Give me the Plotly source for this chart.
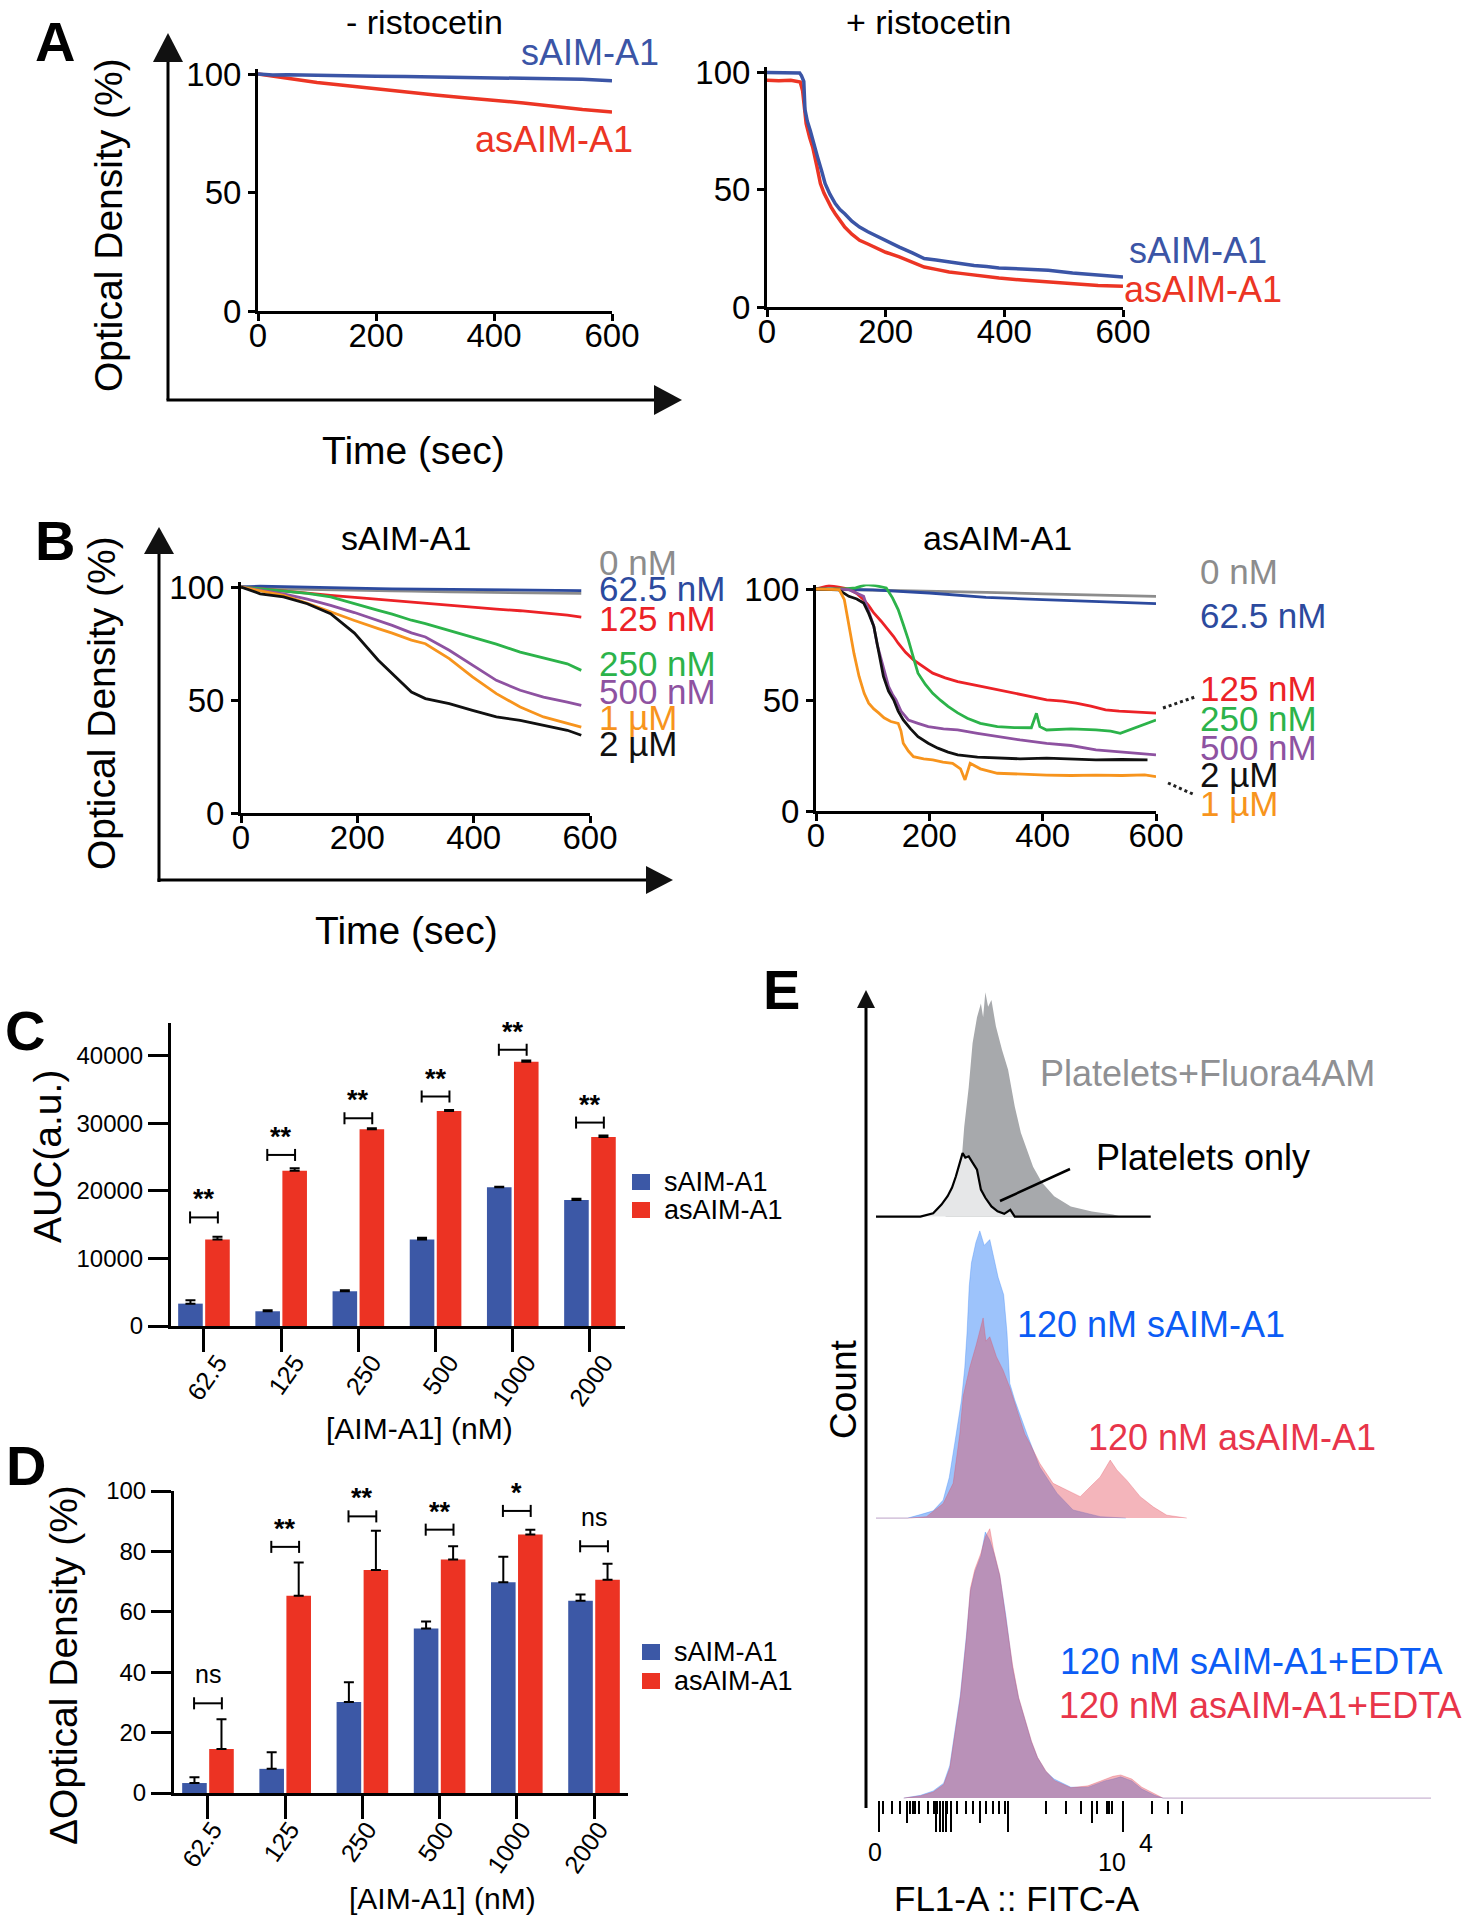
import plotly.graph_objects as go

W, H = 1476, 1920
FONT = "Liberation Sans, Arial, Helvetica, sans-serif"


def fx(p):
    return p / W


def fy(p):
    return 1 - p / H


# ---------------- DATA ----------------
time_ticks = [0, 200, 400, 600]
od_ticks = [0, 50, 100]

# Panel A, - ristocetin
tA1 = [0, 25, 50, 100, 150, 200, 250, 300, 350, 400, 450, 500, 550, 600]
A1_s = [100, 99.6, 99.7, 99.4, 99.3, 99.0, 98.9, 98.7, 98.6, 98.4, 98.2, 98.0, 97.8, 97.2]
A1_as = [100, 99.0, 98.2, 96.4, 95.0, 93.6, 92.3, 91.1, 90.0, 89.0, 87.8, 86.4, 85.0, 84.0]

# Panel A, + ristocetin
tA2_s = [0, 20, 40, 55, 58, 62, 64, 68, 73, 80, 85, 92, 98, 106, 115, 123, 131, 143, 156, 170,
         182, 200, 223, 245, 265, 285, 307, 330, 349, 370, 391, 430, 474, 515, 558, 600]
A2_s = [99.8, 99.8, 99.8, 99.6, 98.5, 96, 84, 79, 75, 68, 64, 58, 52.5, 48, 44, 41.5, 39.7, 36.5, 34, 32,
        30.5, 28, 25.5, 23, 20.6, 20, 19.1, 18.5, 17.7, 17.2, 16.6, 16.2, 15.6, 14.5, 13.5, 12.8]
tA2_as = [0, 20, 40, 56, 60, 62, 66, 72, 77, 84, 90, 96, 102, 108, 115, 123, 131, 143, 156, 170,
          182, 200, 223, 245, 265, 285, 307, 330, 349, 370, 391, 430, 474, 515, 558, 600]
A2_as = [96.5, 96.3, 96.5, 95.7, 92, 88, 78, 72, 68, 60, 52.5, 48.5, 45.4, 42.5, 39.7, 37, 34, 31, 28.4, 26.8,
         25.5, 23.3, 21.3, 19, 17, 16, 14.9, 14.2, 13.5, 13, 12.3, 11.5, 10.6, 9.9, 9.2, 8.8]

# Panel B, sAIM-A1
tB1 = [0, 33, 73, 114, 154, 195, 236, 260, 293, 317, 358, 398, 439, 480, 520, 561, 585]
B1_0 = [100, 99.6, 99.3, 99.0, 98.9, 98.6, 98.5, 98.3, 98.2, 98.0, 97.9, 97.7, 97.6, 97.5, 97.4, 97.3, 97.2]
B1_62 = [100, 100.4, 100.2, 99.9, 99.7, 99.5, 99.3, 99.2, 99.1, 99.0, 98.9, 98.8, 98.7, 98.6, 98.6, 98.5, 98.4]
B1_125 = [100, 99.3, 98.5, 97.3, 96.3, 95.4, 94.5, 94.0, 93.2, 92.6, 91.8, 91.0, 90.2, 89.5, 88.7, 87.6, 86.7]
B1_250 = [100, 99.2, 98.5, 97.2, 95.6, 92.8, 89.7, 88.0, 85.3, 83.8, 80.8, 77.9, 74.7, 71.2, 68.6, 66.0, 63.1]
B1_500 = [100, 98.6, 97.0, 94.6, 91.9, 88.7, 85.3, 83.0, 79.7, 77.9, 72.0, 65.3, 58.7, 54.3, 51.3, 49.1, 47.6]
B1_1u = [100, 98.2, 96.3, 92.8, 88.9, 85.2, 81.6, 79.6, 76.5, 74.9, 68.3, 60.2, 52.8, 46.9, 42.5, 39.5, 38.0]
B1_2u = [100, 97.0, 95.6, 92.6, 88.2, 79.6, 67.6, 61.7, 53.5, 50.6, 48.4, 45.4, 42.5, 41.0, 38.8, 36.6, 34.4]

# Panel B, asAIM-A1
tB2_0 = [0, 100, 200, 300, 400, 500, 600]
B2_0 = [100, 99.6, 99.0, 98.5, 97.8, 97.2, 96.7]
B2_62 = [100, 99.6, 98.2, 96.2, 95.2, 94.2, 93.4]
tB2_125 = [0, 23, 40, 58, 72, 84, 93, 102, 115, 128, 137, 145, 158, 172, 190, 206, 228, 250, 285, 320,
           360, 407, 435, 459, 485, 511, 535, 555, 580, 600]
B2_125 = [100, 101.5, 100.8, 100, 98, 95.2, 92.5, 89.2, 85.5, 81.7, 78.6, 75.6, 71.5, 68.1, 64.8, 62.1, 60, 58.3, 56.5, 54.6,
          52.6, 50.1, 49.5, 48.6, 47.2, 45.6, 45, 44.8, 44.6, 44.1]
tB2_250 = [0, 30, 50, 70, 89, 105, 124, 135, 145, 154, 163, 172, 180, 193, 206, 220, 233, 250, 267, 290,
           320, 350, 380, 389, 395, 407, 450, 494, 520, 537, 570, 600]
B2_250 = [100, 100, 100, 100.5, 102, 101.5, 100.5, 96, 90.7, 84, 77.1, 69, 62.1, 57, 53, 49.8, 47.1, 44.2, 41.8, 39.5,
          38, 37.6, 37.5, 44, 38, 36.5, 37, 36.5, 36, 35, 38, 41]
tB2_500 = [0, 40, 58, 84, 93, 102, 108, 115, 122, 128, 135, 141, 150, 163, 180, 198, 225, 250, 285, 320,
           360, 407, 450, 494, 540, 580, 600]
B2_500 = [100, 100, 99.7, 96.7, 90, 83.2, 75, 68.1, 61, 56.1, 52.5, 50.1, 45, 41, 39.5, 38, 37, 36.5, 35, 33.5,
          32, 30.5, 29.5, 27.5, 26.5, 25.5, 25.3]
tB2_2u = [0, 40, 58, 72, 84, 93, 102, 110, 119, 128, 137, 145, 154, 167, 180, 198, 215, 233, 250, 285,
          320, 360, 407, 450, 494, 540, 585]
B2_2u = [100, 99.6, 96.7, 95.5, 93.7, 89, 83.2, 72, 60.6, 54, 50.1, 45, 41, 37, 33.5, 30.5, 28.3, 26.5, 25.3, 24.3,
         23.8, 23.5, 23.8, 23.3, 23, 23.2, 23]
tB2_1u = [0, 25, 41, 50, 58, 67, 76, 85, 93, 102, 111, 120, 132, 145, 150, 154, 163, 172, 190, 206,
          224, 241, 255, 263, 272, 290, 320, 360, 407, 450, 494, 540, 580, 600]
B2_1u = [100, 99.8, 99.7, 95.2, 83.2, 71, 60.6, 53, 48.6, 46, 44.1, 42, 40.3, 39.5, 36, 30.5, 27, 24.5, 23.5, 23,
         22, 21.5, 19, 14, 21.5, 19, 17, 16.5, 16.2, 16, 16.2, 16, 16.3, 15.5]

conc_labels = ["0 nM", "62.5 nM", "125 nM", "250 nM", "500 nM", "1 µM", "2 µM"]

# Panel C (AUC)
cats = ["62.5", "125", "250", "500", "1000", "2000"]
series_names = ["sAIM-A1", "asAIM-A1"]
C_s = [3310, 2180, 5140, 12810, 20520, 18640]
C_s_err = [490, 140, 150, 240, 100, 200]
C_as = [12800, 22990, 29120, 31840, 39110, 27990]
C_as_err = [400, 350, 150, 150, 200, 190]
C_bracket = [16070, 25320, 30750, 33970, 40890, 30110]
C_sig = ["**", "**", "**", "**", "**", "**"]
C_ticks = [0, 10000, 20000, 30000, 40000]

# Panel D (delta OD)
D_s = [3.3, 8.0, 30.1, 54.5, 69.8, 63.7]
D_s_err = [1.9, 5.5, 6.6, 2.3, 8.4, 2.0]
D_as = [14.6, 65.3, 73.8, 77.3, 85.6, 70.6]
D_as_err = [9.8, 11.0, 13.0, 4.4, 1.6, 5.3]
D_bracket = [29.7, 81.5, 91.6, 87.2, 93.4, 81.7]
D_sig = ["ns", "**", "**", "**", "*", "ns"]
D_ticks = [0, 20, 40, 60, 80, 100]

# Panel E (flow histograms; x = display channel, y = % of max)
E_gray_x = [125, 140, 152, 159, 167, 174, 182, 189, 193, 197, 202, 208, 216, 227, 238, 250, 261, 272, 283,
            299, 321, 351, 389, 427, 441]
E_gray_y = [0, 4.5, 17.8, 39.8, 57, 76.5, 88, 94, 88, 99, 92.6, 95.6, 84, 73.6, 64.8, 48.6, 37, 29.5, 22,
            15, 9, 4.5, 2.3, 0.9, 0]
E_only_x = [0, 80, 103, 118, 129, 137, 144, 152, 156, 161, 167, 174, 182, 189, 197, 208, 219, 231, 242, 250, 495]
E_only_y = [0, 0, 1.5, 5.3, 9, 12.8, 17.8, 25, 28, 26, 26.6, 23.8, 20.7, 11.9, 8.3, 4.5, 2.3, 1.2, 3, 0, 0]
E_s_x = [0, 57, 80, 103, 121, 132, 142, 154, 160, 164, 168, 172, 180, 187, 195, 205, 212, 220, 230, 236,
         241, 250, 272, 295, 326, 355, 404, 450]
E_s_y = [0, 0, 1.2, 2.5, 6.2, 14, 25.9, 40.7, 52, 63.8, 80, 88, 95, 99, 94, 96, 90, 83, 77, 64,
         46.5, 40.7, 29, 17.6, 8.6, 2.8, 0.5, 0]
E_as_x = [0, 61, 91, 121, 139, 151, 157, 169, 181, 193, 198, 205, 217, 229, 241, 254, 268, 277, 295, 319,
          344, 368, 386, 404, 422, 434, 452, 476, 500, 524, 560]
E_as_y = [0, 0, 0.5, 5, 12, 29, 42, 52, 60, 69, 61, 62.5, 55.6, 51, 45, 37, 29, 25.8, 18.9, 12,
          9.7, 7.4, 10.8, 14.2, 20, 16.6, 13, 7.4, 3.8, 1, 0]
E_edta_x = [50, 80, 103, 122, 133, 140, 152, 163, 170, 178, 189, 197, 205, 212, 223, 234, 246, 257, 269, 280,
            291, 306, 321, 351, 382, 412, 427, 441, 461, 479, 502, 517, 1000]
E_s_edta_y = [0, 1, 2.6, 5.5, 12, 22, 38, 60, 76, 83, 89, 97.8, 94.8, 90.4, 81.7, 67, 48, 36.7, 28, 20.7,
              14.9, 9.8, 7, 4, 4, 6.3, 7, 7.8, 6.3, 3.3, 1, 0, 0]
E_as_edta_y = [0, 0.8, 2.2, 5, 11, 21, 37, 59, 77, 84, 90, 96, 99, 91, 82, 66, 49, 37, 28.5, 21,
               15, 10, 6.5, 3.8, 4.5, 6.8, 8, 8.5, 7, 4, 1.5, 0, 0]
E_long_ticks = [5, 108, 115, 121, 126, 135, 238, 445]
E_mid_ticks = [56, 187, 389]
E_short_ticks = [12, 29, 44, 61, 66, 70, 78, 94, 104, 110, 128, 146, 162, 175, 199, 210, 222, 232,
                 307, 342, 370, 399, 416, 420, 425, 498, 527, 551]

# ---------------- COLORS ----------------
BLUE_A = "#3b55a6"
RED_A = "#ec3524"
B_COLORS = ["#8c8c8c", "#2c4a9e", "#ec2227", "#2cb34a", "#8e52a1", "#f7941d", "#111111"]
BAR_BLUE = "#3c58a6"
BAR_RED = "#ec3323"
E_BLUE_TXT = "#0b5cf5"
E_RED_TXT = "#e8354a"

fig = go.Figure()


def line(x, y, color, xa, ya, width=3):
    fig.add_trace(go.Scatter(x=x, y=y, mode="lines", line=dict(color=color, width=width),
                             xaxis=xa, yaxis=ya, showlegend=False, hoverinfo="skip"))


# Panel A
line(tA1, A1_as, RED_A, "x", "y", 3.5)
line(tA1, A1_s, BLUE_A, "x", "y", 3.5)
line(tA2_as, A2_as, RED_A, "x2", "y2", 3.5)
line(tA2_s, A2_s, BLUE_A, "x2", "y2", 3.5)

# Panel B left
for ys, c in [(B1_0, B_COLORS[0]), (B1_62, B_COLORS[1]), (B1_125, B_COLORS[2]), (B1_250, B_COLORS[3]),
              (B1_500, B_COLORS[4]), (B1_1u, B_COLORS[5]), (B1_2u, B_COLORS[6])]:
    line(tB1, ys, c, "x3", "y3", 2.8)

# Panel B right
for xs, ys, c in [(tB2_0, B2_0, B_COLORS[0]), (tB2_0, B2_62, B_COLORS[1]), (tB2_125, B2_125, B_COLORS[2]),
                  (tB2_250, B2_250, B_COLORS[3]), (tB2_500, B2_500, B_COLORS[4]), (tB2_2u, B2_2u, B_COLORS[6]),
                  (tB2_1u, B2_1u, B_COLORS[5])]:
    line(xs, ys, c, "x4", "y4", 2.8)

# Panels C and D bars
xpos = list(range(len(cats)))


def bars(vals, errs, name, color, xa, ya):
    fig.add_trace(go.Bar(
        x=xpos, y=vals, name=name, marker=dict(color=color, line=dict(width=0)),
        error_y=dict(type="data", array=errs, arrayminus=[0] * len(errs), symmetric=False,
                     color="black", thickness=2, width=5),
        xaxis=xa, yaxis=ya, showlegend=False, hoverinfo="skip"))


bars(C_s, C_s_err, series_names[0], BAR_BLUE, "x5", "y5")
bars(C_as, C_as_err, series_names[1], BAR_RED, "x5", "y5")
bars(D_s, D_s_err, series_names[0], BAR_BLUE, "x6", "y6")
bars(D_as, D_as_err, series_names[1], BAR_RED, "x6", "y6")


def brackets(ylist, cap, xa, ya, half=0.18):
    xs, ys = [], []
    for k, yv in zip(xpos, ylist):
        xs += [k - half, k - half, None, k - half, k + half, None, k + half, k + half, None]
        ys += [yv - cap, yv + cap, None, yv, yv, None, yv - cap, yv + cap, None]
    fig.add_trace(go.Scatter(x=xs, y=ys, mode="lines", line=dict(color="black", width=2),
                             xaxis=xa, yaxis=ya, showlegend=False, hoverinfo="skip"))


brackets(C_bracket, 890, "x5", "y5")
brackets(D_bracket, 2.0, "x6", "y6")

# Panel E histograms
fig.add_trace(go.Scatter(x=E_gray_x, y=E_gray_y, mode="lines", fill="tozeroy", fillcolor="#a7a9ac",
                         line=dict(width=0, color="#a7a9ac"), xaxis="x7", yaxis="y7",
                         showlegend=False, hoverinfo="skip"))
fig.add_trace(go.Scatter(x=E_only_x, y=E_only_y, mode="lines", fill="tozeroy", fillcolor="#e6e7e8",
                         line=dict(width=2.2, color="black"), xaxis="x7", yaxis="y7",
                         showlegend=False, hoverinfo="skip"))
fig.add_trace(go.Scatter(x=E_s_x, y=E_s_y, mode="lines", fill="tozeroy", fillcolor="rgba(59,135,247,0.5)",
                         line=dict(width=1, color="rgba(59,135,247,0.35)"), xaxis="x8", yaxis="y8",
                         showlegend=False, hoverinfo="skip"))
fig.add_trace(go.Scatter(x=E_as_x, y=E_as_y, mode="lines", fill="tozeroy", fillcolor="rgba(228,70,85,0.4)",
                         line=dict(width=1, color="rgba(228,70,85,0.3)"), xaxis="x8", yaxis="y8",
                         showlegend=False, hoverinfo="skip"))
fig.add_trace(go.Scatter(x=E_edta_x, y=E_s_edta_y, mode="lines", fill="tozeroy", fillcolor="rgba(59,135,247,0.5)",
                         line=dict(width=1, color="rgba(59,135,247,0.35)"), xaxis="x9", yaxis="y9",
                         showlegend=False, hoverinfo="skip"))
fig.add_trace(go.Scatter(x=E_edta_x, y=E_as_edta_y, mode="lines", fill="tozeroy", fillcolor="rgba(228,70,85,0.4)",
                         line=dict(width=1, color="rgba(228,70,85,0.3)"), xaxis="x9", yaxis="y9",
                         showlegend=False, hoverinfo="skip"))
# helper (empty) trace so the medium-tick overlay axis is drawn
fig.add_trace(go.Scatter(x=[], y=[], xaxis="x10", yaxis="y9", showlegend=False, hoverinfo="skip"))

# ---------------- AXES ----------------
AX_LINE = dict(showline=True, linecolor="black", linewidth=3, ticks="outside", tickcolor="black",
               showgrid=False, zeroline=False, fixedrange=True)


def t_x(d0, d1, anchor):
    return dict(AX_LINE, domain=[fx(d0), fx(d1)], range=[0, 600], anchor=anchor, tickmode="array",
                tickvals=time_ticks, ticktext=[str(v) for v in time_ticks], ticklen=7, tickwidth=3,
                ticklabelstandoff=-14,
                tickfont=dict(family=FONT, size=33, color="black"))


def t_y(y0, y100, anchor):
    top = y0 - (y0 - y100) * 1.02
    return dict(AX_LINE, domain=[fy(y0), fy(top)], range=[0, 102], anchor=anchor, tickmode="array",
                tickvals=od_ticks, ticktext=[str(v) for v in od_ticks], ticklen=7, tickwidth=3,
                tickfont=dict(family=FONT, size=33, color="black"))


def bar_x(d0, d1, r0, r1, anchor, shift):
    return dict(AX_LINE, domain=[fx(d0), fx(d1)], range=[r0, r1], anchor=anchor, tickmode="array",
                tickvals=xpos, ticktext=cats, tickangle=-55, ticklen=23, tickwidth=3,
                ticklabelstandoff=-14, ticklabelshift=shift,
                tickfont=dict(family=FONT, size=25, color="black"))


def bar_y(y0, ytop, r1, ticks, anchor):
    return dict(AX_LINE, domain=[fy(y0), fy(ytop)], range=[0, r1], anchor=anchor, tickmode="array",
                tickvals=ticks, ticktext=[str(v) for v in ticks], ticklen=20, tickwidth=3,
                tickfont=dict(family=FONT, size=24, color="black"))


HID = dict(visible=False, fixedrange=True)

layout_axes = dict(
    xaxis=t_x(258, 612, "y"), yaxis=t_y(311, 74, "x"),
    xaxis2=t_x(767, 1123, "y2"), yaxis2=t_y(307, 72, "x2"),
    xaxis3=t_x(241, 590, "y3"), yaxis3=t_y(813, 587, "x3"),
    xaxis4=t_x(816, 1156, "y4"), yaxis4=t_y(811, 589, "x4"),
    xaxis5=bar_x(171, 625, -0.427, 5.454, "y5", 14), yaxis5=bar_y(1326, 1023, 44850, C_ticks, "x5"),
    xaxis6=bar_x(174, 628, -0.44, 5.44, "y6", 5), yaxis6=bar_y(1793, 1491, 100, D_ticks, "x6"),
    xaxis7=dict(HID, domain=[fx(876), fx(1431)], range=[0, 1000], anchor="y7"),
    yaxis7=dict(HID, domain=[fy(1220), fy(990)], range=[-1.5, 100], anchor="x7"),
    xaxis8=dict(HID, domain=[fx(876), fx(1431)], range=[0, 1000], anchor="y8"),
    yaxis8=dict(HID, domain=[fy(1521), fy(1228)], range=[-1, 100], anchor="x8"),
    xaxis9=dict(domain=[fx(876), fx(1431)], range=[0, 1000], anchor="y9", showline=False, showgrid=False,
                zeroline=False, fixedrange=True, tickmode="array", tickvals=E_long_ticks, ticks="outside",
                ticklen=31, tickwidth=2, tickcolor="black", showticklabels=False,
                minor=dict(tickmode="array", tickvals=E_short_ticks, ticks="outside", ticklen=13,
                           tickwidth=2, tickcolor="black", showgrid=False)),
    xaxis10=dict(overlaying="x9", range=[0, 1000], anchor="y9", showline=False, showgrid=False,
                 zeroline=False, fixedrange=True, tickmode="array", tickvals=E_mid_ticks, ticks="outside",
                 ticklen=22, tickwidth=2, tickcolor="black", showticklabels=False),
    yaxis9=dict(HID, domain=[fy(1800), fy(1526)], range=[-0.7, 100], anchor="x9"),
)

# ---------------- TEXT ----------------
ann = []


def text(s, x, y, size, color="black", bold=False, angle=0, xanchor="center", yanchor="middle",
         xref="paper", yref="paper", yshift=0):
    ann.append(dict(text=("<b>%s</b>" % s) if bold else s,
                    x=fx(x) if xref == "paper" else x, y=fy(y) if yref == "paper" else y,
                    xref=xref, yref=yref, showarrow=False, textangle=angle, xanchor=xanchor,
                    yanchor=yanchor, yshift=yshift,
                    font=dict(family=FONT, size=size, color=color)))


# panel letters
for letter, lx, ly in [("A", 55, 42), ("B", 55, 540), ("C", 25, 1030), ("D", 26, 1465), ("E", 781, 989)]:
    text(letter, lx, ly, 56, bold=True)

# A
text("- ristocetin", 424, 22, 34)
text("+ ristocetin", 929, 22, 34)
text("sAIM-A1", 590, 52, 36, BLUE_A)
text("asAIM-A1", 554, 140, 36, RED_A)
text("sAIM-A1", 1198, 250, 36, BLUE_A)
text("asAIM-A1", 1203, 290, 36, RED_A)
text("Optical Density (%)", 108, 225, 39, angle=-90)
text("Time (sec)", 413, 450, 39)

# B
text("sAIM-A1", 406, 538, 34)
text("asAIM-A1", 997, 538, 34)
for lab, yy, c in zip(conc_labels, [562, 588, 618, 663, 692, 717, 743], B_COLORS):
    text(lab, 597, yy, 35, c, xanchor="left")
right_order = [0, 1, 2, 3, 4, 6, 5]
for i, yy in zip(right_order, [572, 615, 688, 718, 747, 775, 803]):
    text(conc_labels[i], 1198, yy, 35, B_COLORS[i], xanchor="left")
text("Optical Density (%)", 101, 703, 39, angle=-90)
text("Time (sec)", 406, 930, 39)

# C
text("AUC(a.u.)", 47, 1157, 39, angle=-90)
text("[AIM-A1] (nM)", 419, 1428, 30)
for k, yb, s in zip(xpos, C_bracket, C_sig):
    ann.append(dict(text="<b>%s</b>" % s, x=k, y=yb, xref="x5", yref="y5", showarrow=False,
                    xanchor="center", yanchor="bottom", yshift=1,
                    font=dict(family=FONT, size=27, color="black")))

# D
text("ΔOptical Density (%)", 63, 1665, 39, angle=-90)
text("[AIM-A1] (nM)", 442, 1898, 30)
for k, yb, s in zip(xpos, D_bracket, D_sig):
    is_ns = s == "ns"
    ann.append(dict(text=s if is_ns else "<b>%s</b>" % s, x=k, y=yb, xref="x6", yref="y6", showarrow=False,
                    xanchor="center", yanchor="bottom", yshift=13 if is_ns else 1,
                    font=dict(family=FONT, size=25 if is_ns else 27, color="black")))

# E
text("Platelets+Fluora4AM", 1207, 1073, 36, "#8f9093")
text("Platelets only", 1203, 1157, 36)
text("120 nM sAIM-A1", 1151, 1324, 36, E_BLUE_TXT)
text("120 nM asAIM-A1", 1232, 1437, 36, E_RED_TXT)
text("120 nM sAIM-A1+EDTA", 1251, 1661, 36, E_BLUE_TXT)
text("120 nM asAIM-A1+EDTA", 1260, 1705, 36, E_RED_TXT)
text("Count", 843, 1390, 37, angle=-90)
text("FL1-A :: FITC-A", 1017, 1898, 35)
text("0", 875, 1852, 25)
text("10", 1112, 1862, 25)
text("4", 1146, 1843, 25)

# ---------------- DECORATIONS (arrows, pointers, legend keys) ----------------
shapes = []


def seg(x0, y0, x1, y1, width=3, color="black", dash="solid"):
    shapes.append(dict(type="line", xref="paper", yref="paper", x0=fx(x0), y0=fy(y0), x1=fx(x1), y1=fy(y1),
                       line=dict(color=color, width=width, dash=dash)))


def tri(pts, color="#111111"):
    path = "M " + " L ".join("%f,%f" % (fx(a), fy(b)) for a, b in pts) + " Z"
    shapes.append(dict(type="path", xref="paper", yref="paper", path=path, fillcolor=color,
                       line=dict(width=0)))


def legend_key(x, y, color, label, size=27):
    shapes.append(dict(type="rect", xref="paper", yref="paper", x0=fx(x - 9), x1=fx(x + 9),
                       y0=fy(y + 8), y1=fy(y - 8), fillcolor=color, line=dict(width=0)))
    text(label, x + 21, y, size, xanchor="left")


# legends of C and D
legend_key(641, 1182, BAR_BLUE, series_names[0])
legend_key(641, 1210, BAR_RED, series_names[1])
legend_key(651, 1652, BAR_BLUE, series_names[0])
legend_key(651, 1681, BAR_RED, series_names[1])

# A arrows
seg(168, 400, 168, 56)
tri([(168, 33), (153, 62), (183, 62)])
seg(166.5, 400, 658, 400)
tri([(682, 400), (654, 385), (654, 415)])
# B arrows
seg(159, 882, 159, 548)
tri([(159, 527), (144, 554), (174, 554)])
seg(157.5, 880, 650, 880)
tri([(673, 880), (646, 866), (646, 894)])
# E axis arrow
seg(866, 1808, 866, 1004, width=3)
tri([(866, 990), (857, 1008), (875, 1008)])
# pointer for "Platelets only"
seg(1000, 1201, 1070, 1169, width=2.5)
# dotted connectors in B right
seg(1163, 708, 1195, 697, width=3, color="#222222", dash="dot")
seg(1168, 783, 1195, 795, width=3, color="#222222", dash="dot")

fig.update_layout(
    width=W, height=H, autosize=False,
    margin=dict(l=0, r=0, t=0, b=0, pad=0, autoexpand=False),
    paper_bgcolor="white", plot_bgcolor="rgba(0,0,0,0)",
    font=dict(family=FONT, color="black"),
    barmode="group", bargap=0.3, bargroupgap=0.09,
    showlegend=False,
    annotations=ann,
    shapes=shapes,
    **layout_axes,
)

fig.write_html("out.html", config={"displayModeBar": False},
               post_script="document.body.style.margin='0';document.body.style.overflow='hidden';")
